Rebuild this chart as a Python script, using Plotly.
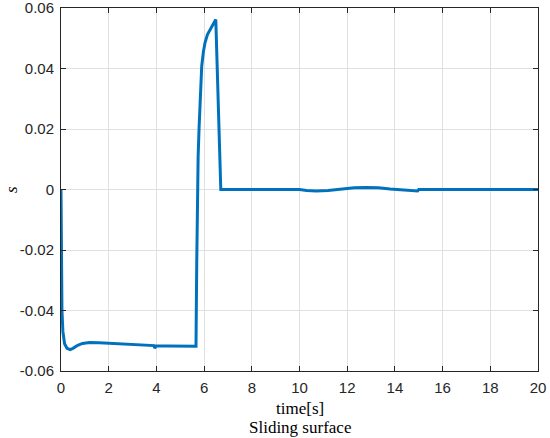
"""
Sliding surface s(t) - MATLAB style line plot
"""
import plotly.graph_objects as go

# data
time_s = [0, 0.01, 0.02, 0.04, 0.08, 0.15, 0.25, 0.38, 0.5, 0.7, 0.9, 1.2, 1.6, 2.0,
          2.5, 3.0, 3.5, 3.9, 3.93, 3.96, 4.0, 4.5, 5.0, 5.5, 5.66, 5.69, 5.72, 5.75,
          5.79, 5.84, 5.9, 5.97, 6.04, 6.14, 6.25, 6.37, 6.49, 6.70, 7.0, 8.0, 9.0,
          10.0, 10.3, 10.7, 11.2, 11.8, 12.3, 12.8, 13.3, 13.8, 14.3, 14.7, 14.95,
          15.0, 16.0, 18.0, 20.0]
s_vals = [0, -0.015, -0.028, -0.04, -0.047, -0.051, -0.0525, -0.0529, -0.0525, -0.0515,
          -0.0509, -0.0506, -0.0507, -0.0509, -0.0511, -0.0513, -0.0515, -0.0516,
          -0.0524, -0.0519, -0.0517, -0.0517, -0.0518, -0.0518, -0.0518, -0.025, 0.0,
          0.011, 0.0205, 0.032, 0.0408, 0.0455, 0.0486, 0.0512, 0.0529, 0.0548, 0.0562,
          0.0, 0.0, 0.0, 0.0, 0.0, -0.0003, -0.0005, -0.0003, 0.0002, 0.0006, 0.0007,
          0.0006, 0.0002, -0.0002, -0.0005, -0.0005, 0.0, 0.0, 0.0, 0.0]

x_ticks = [0, 2, 4, 6, 8, 10, 12, 14, 16, 18, 20]
y_ticks = [-0.06, -0.04, -0.02, 0, 0.02, 0.04, 0.06]
y_ticktext = ['-0.06', '-0.04', '-0.02', '0', '0.02', '0.04', '0.06']

AX = '#262626'
GRID = '#e0e0e0'
SERIF = 'Liberation Serif, Times New Roman, serif'
SANS = 'Liberation Sans, Arial, Helvetica, sans-serif'

fig = go.Figure()
fig.add_trace(go.Scatter(x=time_s, y=s_vals, mode='lines',
                         line=dict(color='#0072BD', width=3)))

axis_common = dict(showline=True, linecolor=AX, linewidth=1, mirror='ticks',
                   ticks='inside', ticklen=5, tickcolor=AX, showgrid=True,
                   gridcolor=GRID, gridwidth=1, zeroline=False, automargin=False,
                   ticklabeloverflow='allow', ticklabelstandoff=3,
                   tickfont=dict(family=SANS, size=15, color=AX))

fig.update_xaxes(range=[0, 20], tickvals=x_ticks, **axis_common)
fig.update_yaxes(range=[-0.06, 0.06], tickvals=y_ticks, ticktext=y_ticktext,
                 **axis_common)

fig.update_layout(
    width=550, height=438,
    margin=dict(l=61, r=12, t=8, b=67),
    plot_bgcolor='white', paper_bgcolor='white',
    showlegend=False,
    annotations=[
        dict(text='time[s]', x=0.5, y=-0.072, xref='paper', yref='paper',
             xanchor='center', yanchor='top', showarrow=False,
             font=dict(family=SERIF, size=17, color='black')),
        dict(text='Sliding surface', x=0.5, y=-0.124, xref='paper', yref='paper',
             xanchor='center', yanchor='top', showarrow=False,
             font=dict(family=SERIF, size=17, color='black')),
        dict(text='<i>s</i>', x=-0.104, y=0.5, xref='paper', yref='paper',
             xanchor='center', yanchor='middle', showarrow=False, textangle=-90,
             font=dict(family=SERIF, size=17, color='black')),
    ],
)

# drop the browser's default body margin so the figure sits at the page corner
fig.write_html('out.html', config={'displayModeBar': False},
               post_script="document.body.style.margin='0';")
